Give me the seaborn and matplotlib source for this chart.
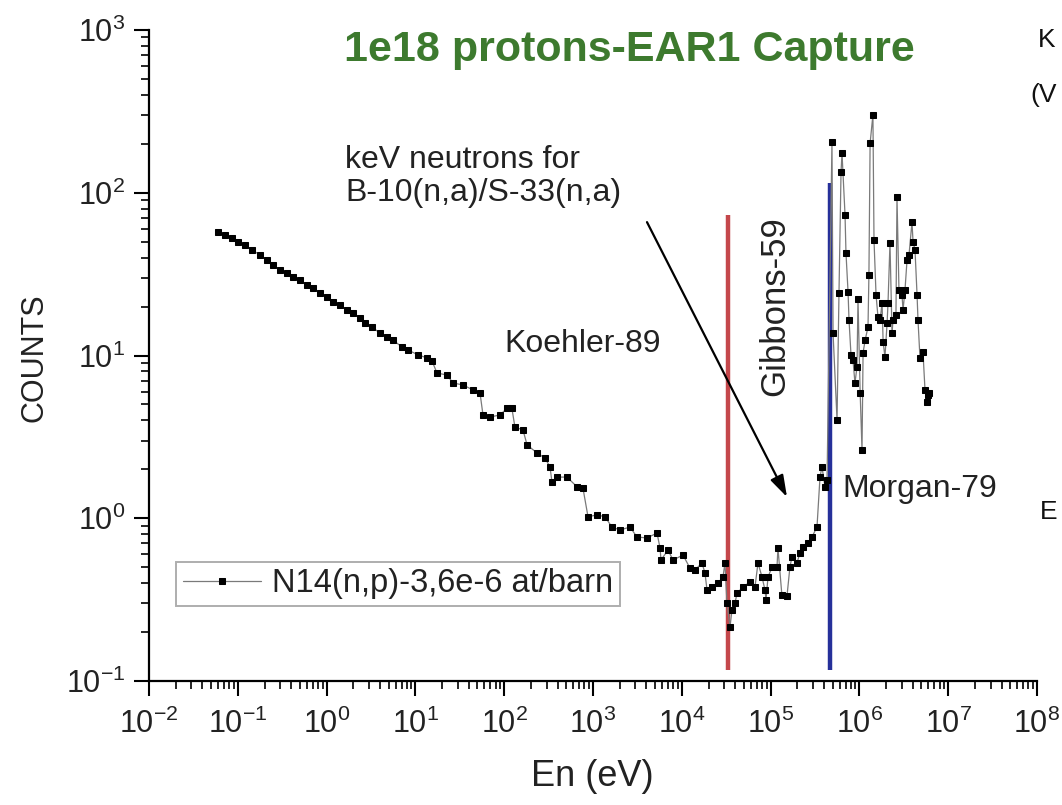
import matplotlib
matplotlib.use("Agg")
import matplotlib.pyplot as plt
import seaborn as sns
import pandas as pd

# ---------------- data ----------------
energy_low = [0.0598, 0.0718, 0.0861, 0.1005, 0.1205, 0.1445, 0.178, 0.213, 0.249, 0.298,
              0.358, 0.419, 0.501, 0.601, 0.703, 0.843, 1.01, 1.18, 1.42, 1.70,
              1.98, 2.38, 2.71, 3.24, 3.99, 4.79, 5.60, 7.06, 8.26, 10.7, 13.5, 15.4]
counts_low = [57.4, 55.0, 52.7, 49.8, 47.7, 44.5, 41.5, 38.6, 36.0, 33.5,
              32.1, 30.3, 29.1, 27.1, 26.0, 24.2, 22.9, 21.3, 20.4, 19.0,
              18.2, 17.0, 15.8, 15.0, 13.7, 13.0, 12.4, 11.3, 10.8, 10.1, 9.66, 9.25]

energy_mid = [17.5, 22.7, 26.5, 34.4, 44.6, 53.4, 57.7, 69.2, 89.7, 108,
              122, 132, 163, 181, 234, 288, 328, 345, 394, 509,
              661, 771, 879, 1110, 1365, 1637, 2014, 2612, 3126, 4055,
              5260, 5690, 5830, 7000, 7960, 10330, 12360, 14090, 16870, 18240,
              19230, 21880, 25590, 29110, 30620, 32280, 34910, 36730, 39720, 41880,
              48870, 58610, 66680, 72110, 80000, 86500, 88760, 93500, 1.04e5, 1.18e5,
              1.21e5, 1.34e5, 1.53e5, 1.65e5, 1.74e5, 1.98e5, 2.14e5, 2.32e5, 2.64e5, 2.92e5,
              3.33e5, 3.60e5, 3.79e5, 4.10e5, 4.32e5]
counts_mid = [7.80, 7.59, 6.78, 6.59, 6.14, 5.89, 4.31, 4.19, 4.31, 4.75,
              4.75, 3.64, 3.48, 2.82, 2.52, 2.34, 2.07, 1.67, 1.79, 1.79,
              1.56, 1.53, 1.02, 1.05, 1.02, 0.883, 0.847, 0.883, 0.767, 0.757,
              0.811, 0.656, 0.554, 0.638, 0.554, 0.594, 0.494, 0.481, 0.531, 0.461,
              0.362, 0.378, 0.400, 0.436, 0.531, 0.301, 0.215, 0.273, 0.301, 0.347,
              0.378, 0.406, 0.378, 0.531, 0.436, 0.362, 0.315, 0.436, 0.501, 0.501,
              0.656, 0.337, 0.333, 0.501, 0.578, 0.531, 0.611, 0.665, 0.705, 0.767,
              0.883, 1.79, 2.07, 1.56, 1.72]

energy_high = [4.91e5, 5.05e5, 5.60e5, 5.89e5, 6.21e5, 6.37e5, 6.89e5, 7.06e5, 7.45e5, 7.64e5,
               8.04e5, 8.47e5, 8.91e5, 9.40e5, 9.64e5, 1.02e6, 1.07e6, 1.10e6, 1.16e6, 1.25e6,
               1.28e6, 1.32e6, 1.42e6, 1.46e6, 1.54e6, 1.62e6, 1.71e6, 1.80e6, 1.85e6, 1.94e6,
               2.05e6, 2.10e6, 2.21e6, 2.33e6, 2.39e6, 2.58e6, 2.65e6, 2.79e6, 3.02e6, 3.10e6,
               3.26e6, 3.44e6, 3.62e6, 3.91e6, 4.02e6, 4.23e6, 4.46e6, 4.57e6, 4.81e6, 5.20e6,
               5.48e6, 5.77e6, 5.93e6, 6.08e6]
counts_high = [205, 13.7, 4.02, 24.2, 134, 175, 73, 42.7, 24.6, 16.5,
               10.1, 9.38, 6.78, 8.50, 22.2, 5.89, 2.63, 10.4, 12.4, 15.0,
               31.3, 202, 301, 51.3, 23.5, 17.2, 16.5, 21.0, 12.1, 9.79,
               15.8, 21.0, 49.1, 13.7, 16.5, 17.7, 94.2, 25.2, 23.5, 19.0,
               25.2, 38.6, 41.5, 66.1, 49.8, 44.5, 23.5, 16.5, 9.66, 10.5,
               6.14, 5.18, 5.71, 5.89]

series_label = "N14(n,p)-3,6e-6 at/barn"
title_text = "1e18 protons-EAR1 Capture"
x_label = "En (eV)"
y_label = "COUNTS"

# reference lines: (energy, y_bottom, y_top)
koehler_line = (3.31e4, 0.117, 73)
morgan_line = (4.61e5, 0.117, 115)

# ---------------- style ----------------
sns.set_theme(style="ticks")
plt.rcParams["font.family"] = ["Liberation Sans", "DejaVu Sans"]
plt.rcParams["mathtext.fontset"] = "custom"
plt.rcParams["mathtext.rm"] = "Liberation Sans"
plt.rcParams["mathtext.it"] = "Liberation Sans:italic"
plt.rcParams["mathtext.bf"] = "Liberation Sans:bold"
plt.rcParams["mathtext.default"] = "regular"
plt.rcParams["axes.unicode_minus"] = False

W, H = 1062, 805
fig = plt.figure(figsize=(W / 100, H / 100), dpi=100)
L, R, T, B = 149, 1037, 30, 681
ax = fig.add_axes([L / W, 1 - B / H, (R - L) / W, (B - T) / H])

df = pd.DataFrame({
    "En": energy_low + energy_mid + energy_high,
    "Counts": counts_low + counts_mid + counts_high,
})

ax.set_xscale("log")
ax.set_yscale("log")

sns.lineplot(data=df, x="En", y="Counts", ax=ax, estimator=None, sort=False,
             color="#7a7a7a", linewidth=0.9, marker="s", markersize=4.0,
             markerfacecolor="black", markeredgecolor="black",
             label=series_label)

ax.vlines(koehler_line[0], koehler_line[1], koehler_line[2], color="#c4474b", linewidth=3.2, zorder=1)
ax.vlines(morgan_line[0], morgan_line[1], morgan_line[2], color="#26309a", linewidth=3.2, zorder=1)

ax.set_xlim(1e-2, 1e8)
ax.set_ylim(1e-1, 1e3)
ax.set_xlabel("")
ax.set_ylabel("")

for s in ["top", "right"]:
    ax.spines[s].set_visible(False)
for s in ["left", "bottom"]:
    ax.spines[s].set_color("black")
    ax.spines[s].set_linewidth(1.6)

ax.xaxis.set_major_locator(matplotlib.ticker.LogLocator(base=10, numticks=20))
ax.xaxis.set_minor_locator(matplotlib.ticker.LogLocator(base=10, subs=range(2, 10), numticks=20))
ax.tick_params(axis="both", which="major", direction="out", length=11, width=1.5,
               labelsize=22, color="black", labelcolor="#222222")
ax.tick_params(axis="both", which="minor", direction="out", length=5.5, width=1.2, color="black")
ax.tick_params(axis="x", which="major", pad=9)
ax.tick_params(axis="y", which="major", pad=6)

# axis labels
fig.text(35 / W, 1 - 358 / H, y_label, rotation=90, ha="center", va="center",
         fontsize=22, color="#222222")
fig.text(592 / W, 1 - 776 / H, x_label, ha="center", va="center",
         fontsize=26, color="#222222")

# title
fig.text(629 / W, 1 - 50 / H, title_text, ha="center", va="center",
         fontsize=31, fontweight="bold", color="#3d7a2e")

# annotations
fig.text(345 / W, 1 - 160 / H, "keV neutrons for", ha="left", va="center",
         fontsize=23, color="#222222")
fig.text(345 / W, 1 - 193 / H, "B-10(n,a)/S-33(n,a)", ha="left", va="center",
         fontsize=23, color="#222222")
fig.text(583 / W, 1 - 344 / H, "Koehler-89", ha="center", va="center",
         fontsize=23, color="#222222")
fig.text(775 / W, 1 - 306 / H, "Gibbons-59", ha="center", va="center",
         rotation=90, fontsize=25, color="#222222")
fig.text(842 / W, 1 - 489 / H, "Morgan-79", ha="left", va="center",
         fontsize=23, color="#222222")

ax.annotate("", xy=(1.53e5, 1.35), xytext=(4055, 66),
            arrowprops=dict(arrowstyle="-|>,head_length=1.1,head_width=0.35",
                            color="black", linewidth=1.6, shrinkA=0, shrinkB=0))

# partially visible text at the right edge of the reference crop (kept inside the figure)
fig.text(1038 / W, 1 - 40 / H, "K", ha="left", va="center", fontsize=19, color="#111111")
fig.text(1030 / W, 1 - 95 / H, "(V", ha="left", va="center", fontsize=19, color="#111111")
fig.text(1040 / W, 1 - 512 / H, "E", ha="left", va="center", fontsize=19, color="#111111")

# legend
leg = ax.legend(loc="lower left", bbox_to_anchor=(176 / W, 1 - 606 / H),
                bbox_transform=fig.transFigure, fontsize=23.5, frameon=True,
                fancybox=False, shadow=False, handlelength=2.4, handletextpad=0.35,
                borderpad=0.2, borderaxespad=0, markerscale=1.0)
leg.get_frame().set_edgecolor("#9a9a9a")
leg.get_frame().set_linewidth(1.4)
for t in leg.get_texts():
    t.set_color("#222222")

fig.savefig("out.png", dpi=100, facecolor="white")
